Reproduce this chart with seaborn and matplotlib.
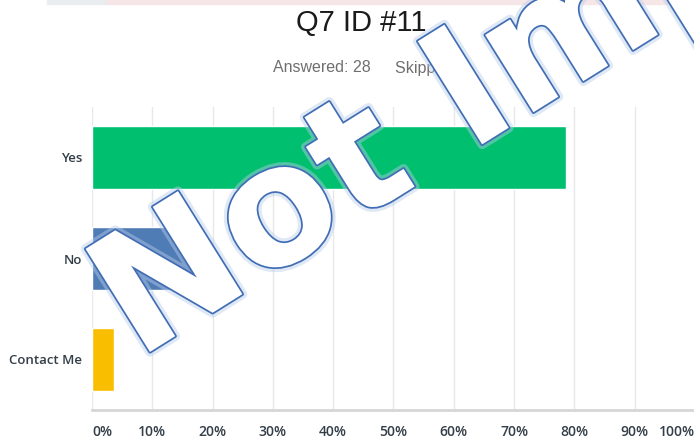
import matplotlib
matplotlib.use('Agg')
import pandas as pd
import seaborn as sns
import matplotlib.pyplot as plt
import matplotlib.patheffects as pe
from matplotlib.patches import Rectangle

# data
categories = ['Yes', 'No', 'Contact Me']
percent = [78.57, 17.86, 3.57]
bar_colors = ['#00bf6f', '#507cb6', '#f9be00']
xticks = [0, 10, 20, 30, 40, 50, 60, 70, 80, 90, 100]
xtick_labels = [f'{t}%' for t in xticks]
title = 'Q7 ID #11'
answered = 'Answered: 28'
skipped = 'Skipped: 0'
watermark = 'Not Important'

df = pd.DataFrame({'answer': categories, 'pct': percent})

sns.set_theme(style='white')
plt.rcParams['font.family'] = ['Liberation Sans', 'DejaVu Sans']

fig = plt.figure(figsize=(6.94, 4.38), dpi=100)
ax = fig.add_axes([92/694, 28/438, 603/694, 303/438])

sns.barplot(data=df, x='pct', y='answer', hue='answer', palette=bar_colors,
            orient='h', width=0.63, legend=False, ax=ax, saturation=1)

ax.set_xlim(0, 100)
ax.set_ylim(2.5, -0.5)
ax.set_xticks(xticks)
ax.set_xticklabels(xtick_labels)
ax.set_xlabel('')
ax.set_ylabel('')
ax.grid(axis='x', color='#e8e8e8', linewidth=1)
ax.set_axisbelow(True)
for s in ['top', 'right', 'left']:
    ax.spines[s].set_visible(False)
ax.spines['bottom'].set_color('#d6d6d6')
ax.spines['bottom'].set_linewidth(2)
ax.tick_params(axis='x', length=0, pad=11)
ax.tick_params(axis='y', length=0, pad=7)
for lab in ax.get_xticklabels():
    lab.set_fontfamily('Open Sans')
    lab.set_fontweight('semibold')
    lab.set_fontsize(10)
    lab.set_color('#333e48')
ax.get_xticklabels()[0].set_ha('left')
ax.get_xticklabels()[-1].set_ha('right')
for lab in ax.get_yticklabels():
    lab.set_fontfamily('Open Sans')
    lab.set_fontweight('semibold')
    lab.set_fontsize(9.5)
    lab.set_color('#333e48')

# header
fig.patches.append(Rectangle((47/694, 1 - 4/438), 60/694, 4/438, transform=fig.transFigure,
                             color='#e9edf0', zorder=0))
fig.patches.append(Rectangle((107/694, 1 - 4/438), 1, 4/438, transform=fig.transFigure,
                             color='#f6e6e8', zorder=0))
fig.text(361/694, 1 - 23/438, title, ha='center', va='center', fontsize=21, color='#1a1a1a')
fig.text(273/694, 1 - 68/438, answered, ha='left', va='center', fontsize=11.5, color='#6f6f6f')
fig.text(395/694, 1 - 68/438, skipped, ha='left', va='center', fontsize=11.5, color='#6f6f6f')

# watermark overlay
fig.text(137/694, 1 - 360/438, watermark, rotation=32, rotation_mode='anchor',
         ha='left', va='baseline', fontsize=120, fontweight='bold',
         family='DejaVu Sans', color='white', zorder=20,
         path_effects=[pe.Stroke(linewidth=7, foreground='#b9cceb', alpha=0.45),
                       pe.Stroke(linewidth=2.5, foreground='#416db5'),
                       pe.Normal()])

fig.savefig('out.png', dpi=100)
